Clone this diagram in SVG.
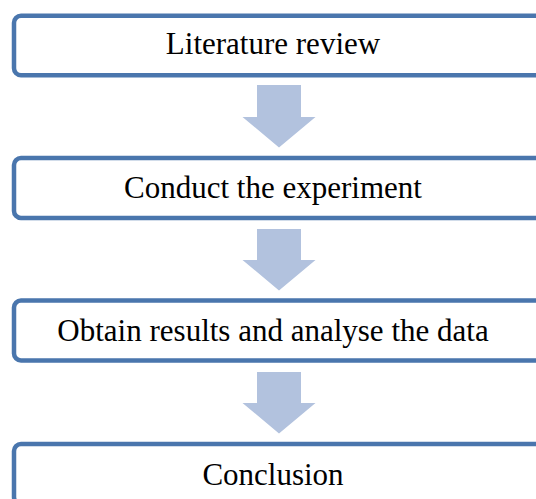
<svg xmlns="http://www.w3.org/2000/svg" width="536" height="499" viewBox="0 0 536 499">
<style>
.box{fill:#fff;stroke:#4A76AD;stroke-width:4.5}
.lbl{font-family:"Liberation Serif","Times New Roman",serif;font-size:31px;fill:#000;text-anchor:middle}
.arr{fill:#B2C2DE}
</style>
<rect width="536" height="499" fill="#fff"/>
<g id="connectors">
<polygon class="arr" points="257,85 301,85 301,117 315.5,117 279,147.5 242.5,117 257,117"/>
<polygon class="arr" points="257,229 301,229 301,260 315.5,260 279,290.5 242.5,260 257,260"/>
<polygon class="arr" points="257,372 301,372 301,403 315.5,403 279,433.5 242.5,403 257,403"/>
</g>
<g id="n1"><rect class="box" x="14" y="15.8" width="540" height="59.5" rx="7"/><text class="lbl" x="273" y="54">Literature review</text></g>
<g id="n2"><rect class="box" x="14" y="158" width="540" height="60" rx="7"/><text class="lbl" x="273" y="198">Conduct the experiment</text></g>
<g id="n3"><rect class="box" x="14" y="300.5" width="540" height="60" rx="7"/><text class="lbl" x="273" y="341">Obtain results and analyse the data</text></g>
<g id="n4"><rect class="box" x="14" y="444" width="540" height="60" rx="7"/><text class="lbl" x="273" y="485">Conclusion</text></g>
</svg>
